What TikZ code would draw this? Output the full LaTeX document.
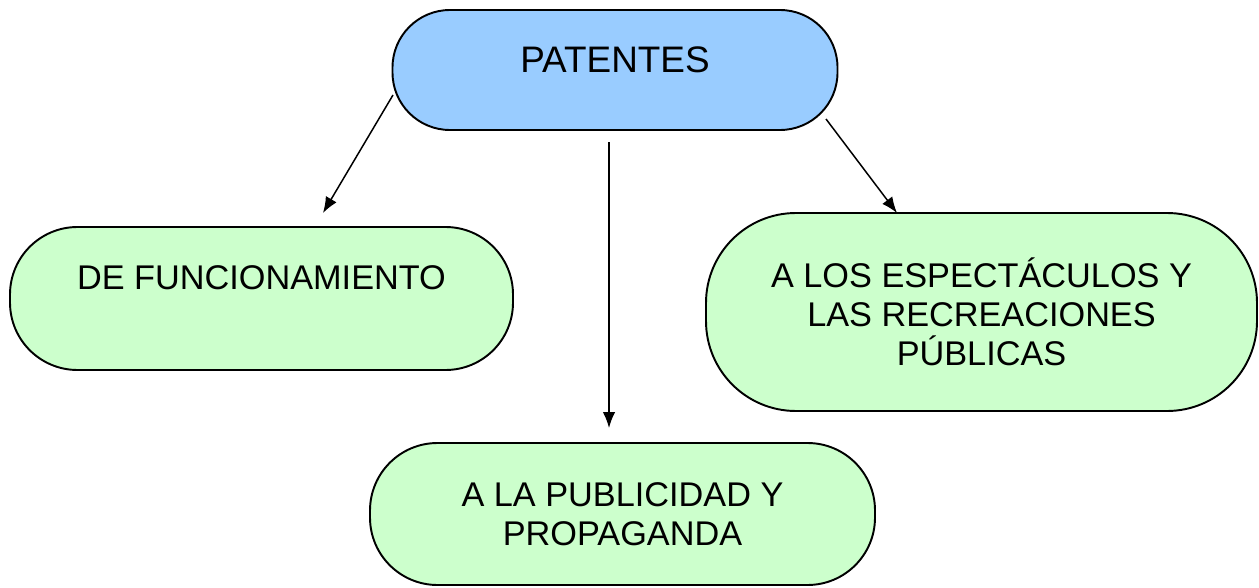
\documentclass[tikz,border=0pt]{standalone}
\usepackage{fontspec}
\setmainfont{Liberation Sans}
\usetikzlibrary{arrows.meta}

\definecolor{topblue}{HTML}{99CCFF}
\definecolor{leafgreen}{HTML}{CCFFCC}

\begin{document}
\begin{tikzpicture}
      \tikzset { capsule/.style = { shape=rectangle,draw,line width=1.1pt,align=center,
                 font=\fontsize{19.5}{22.2}\selectfont,inner sep=0pt } }
      \tikzset { edge/.style = { ->,> = {Latex[length=0.32cm,width=0.25cm]},line width=0.85pt } }

      \useasboundingbox (0,0) rectangle (25.18,11.74);

      \node[capsule,fill=topblue,rounded corners=1.15cm,minimum width=8.9cm,minimum height=2.4cm,
            font=\fontsize{21}{24}\selectfont,text depth=0.4cm] (top) at (12.30,10.34) {PATENTES};
      \node[capsule,fill=leafgreen,rounded corners=1.35cm,minimum width=10.06cm,minimum height=2.86cm,
            text depth=0.84cm] (func) at (5.23,5.77) {DE FUNCIONAMIENTO};
      \node[capsule,fill=leafgreen,rounded corners=1.8cm,minimum width=11.02cm,minimum height=3.96cm]
            (espec) at (19.63,5.50) {A LOS ESPECTÁCULOS Y\\LAS RECREACIONES\\PÚBLICAS};
      \node[capsule,fill=leafgreen,rounded corners=1.35cm,minimum width=10.1cm,minimum height=2.84cm]
            (publi) at (12.45,1.46) {A LA PUBLICIDAD Y\\PROPAGANDA};

      \coordinate (s1) at (7.86,9.84);
      \coordinate (e1) at (6.46,7.48);
      \coordinate (s2) at (12.18,8.90);
      \coordinate (e2) at (12.18,3.18);
      \coordinate (s3) at (16.52,9.36);
      \coordinate (e3) at (17.94,7.48);

      \draw[edge] (s1) to (e1);
      \draw[edge] (s2) to (e2);
      \draw[edge] (s3) to (e3);

    \end{tikzpicture}
\end{document}
